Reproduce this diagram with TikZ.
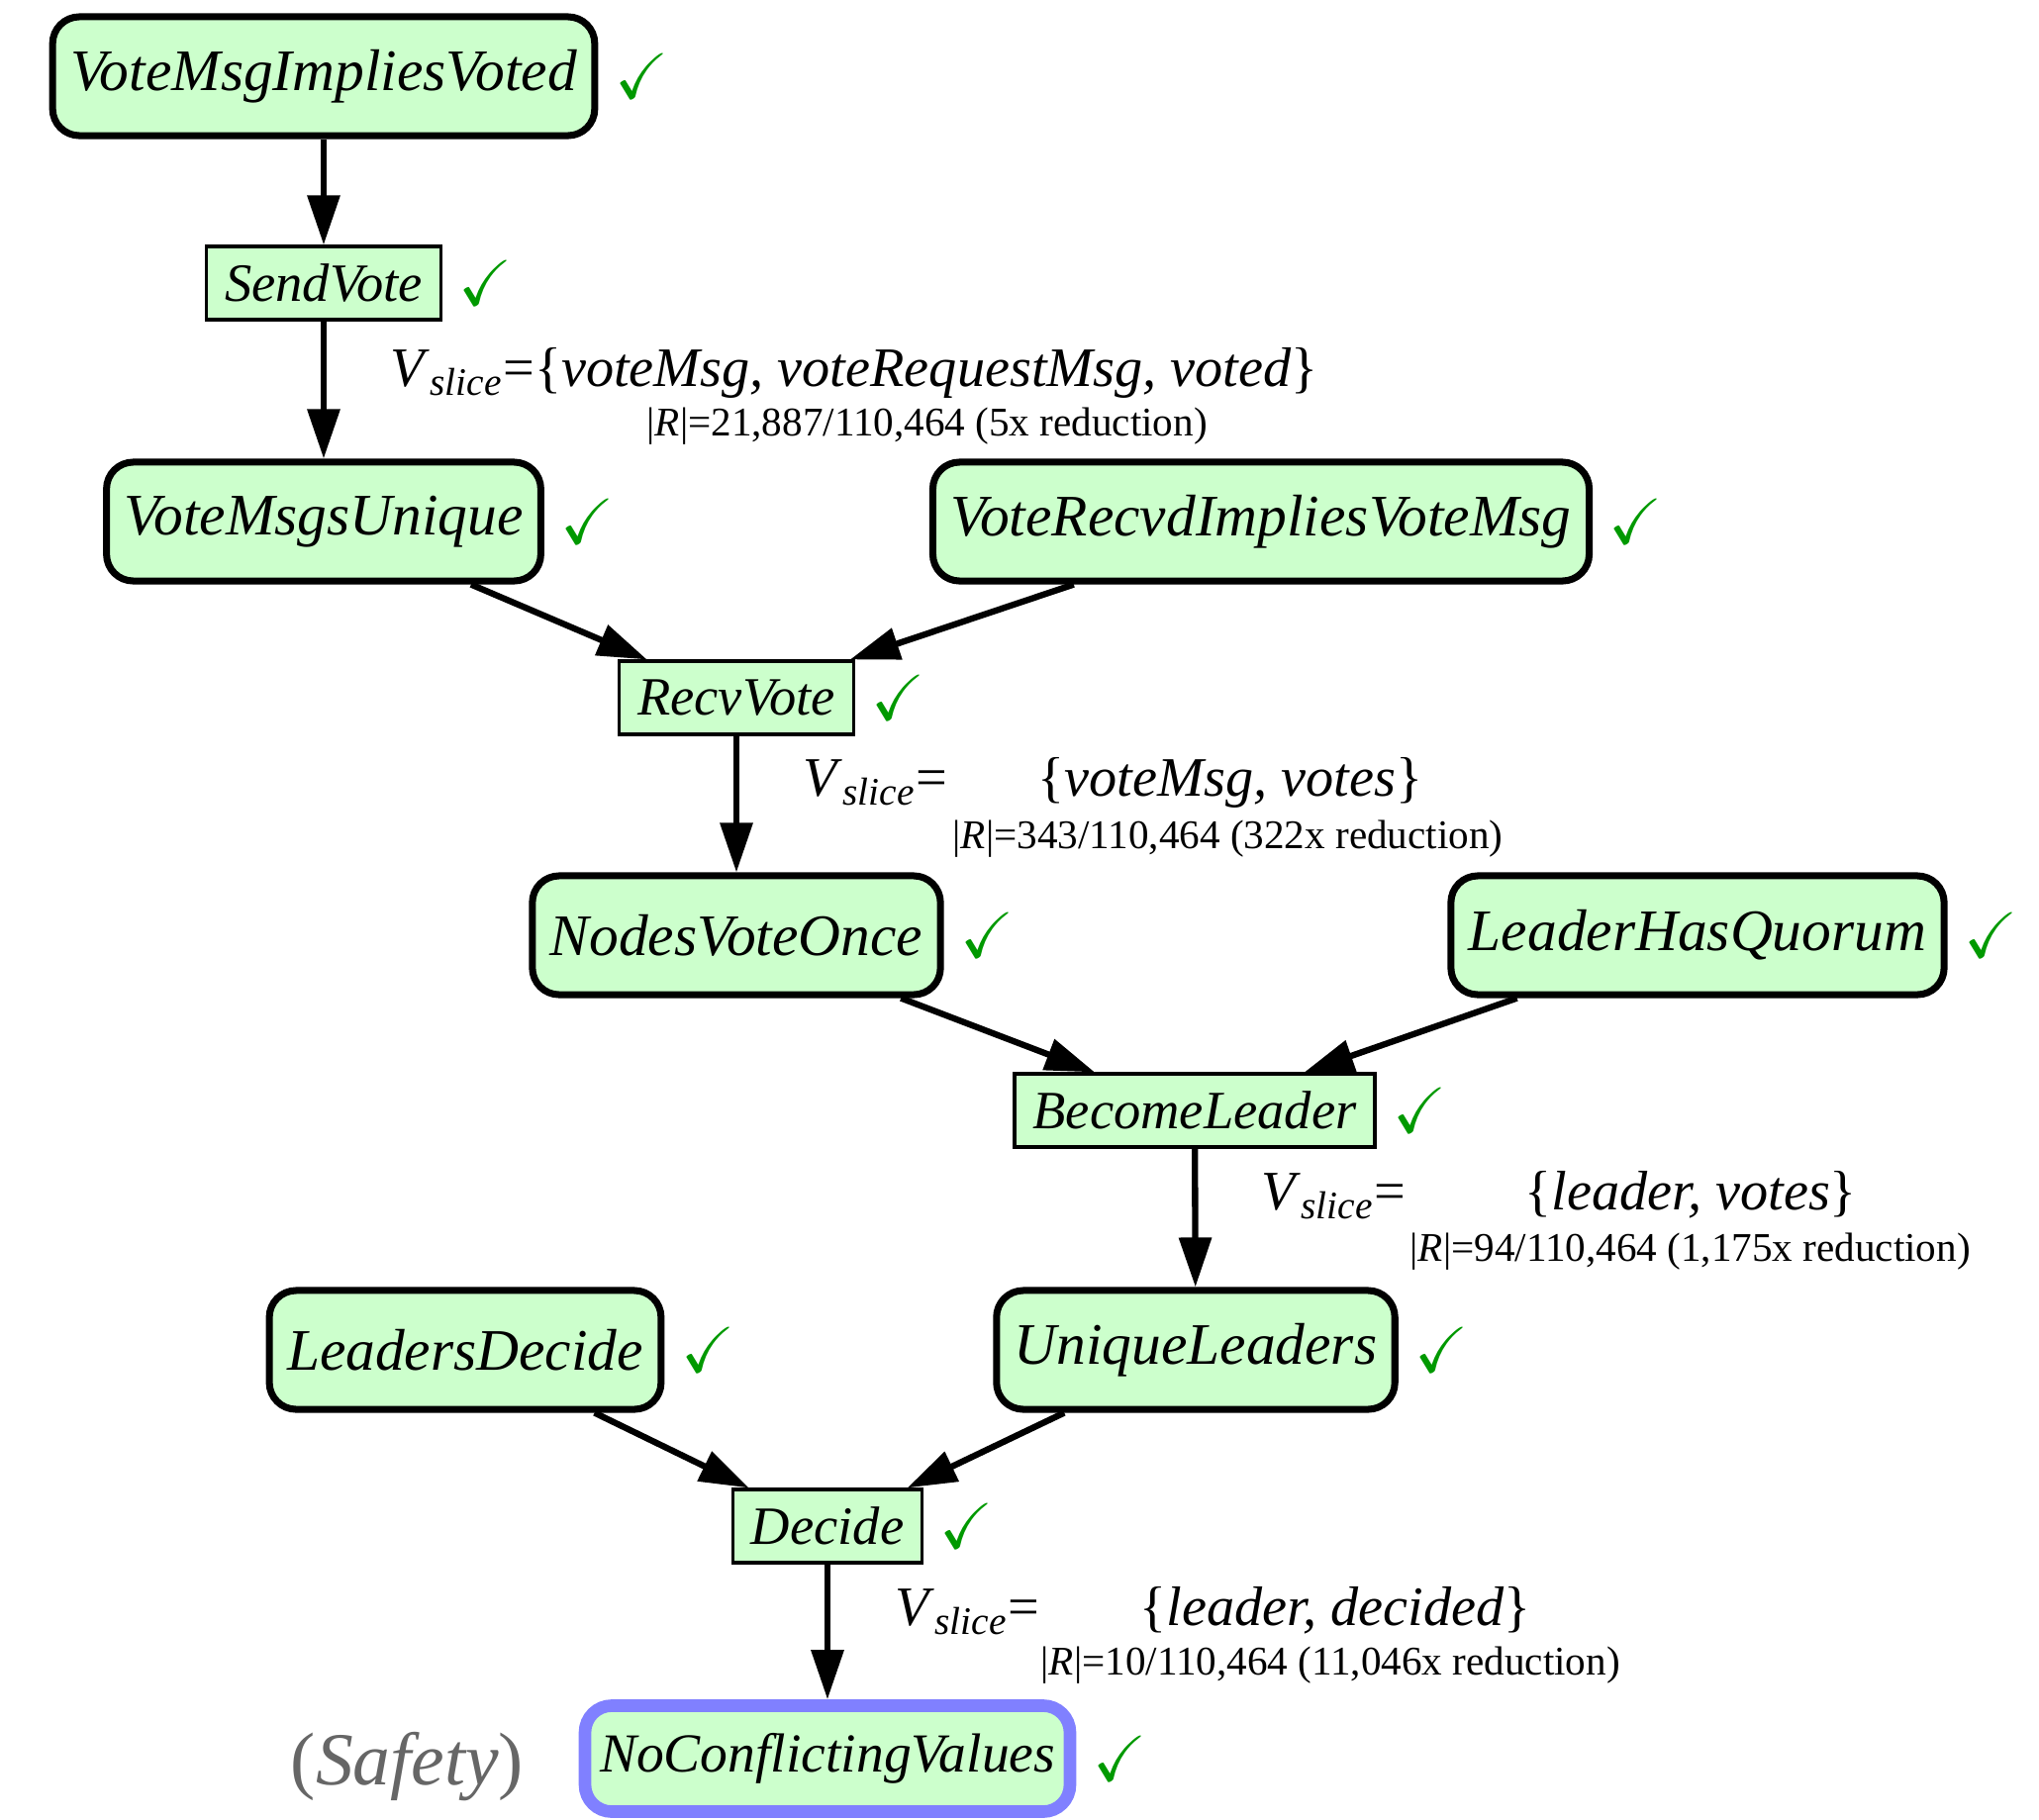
\documentclass[tikz,border=0pt]{standalone}
\usepackage{amssymb}
\usepackage{fontspec}
\setmainfont{Liberation Serif}
\usepackage{tikz}
\usetikzlibrary{arrows.meta,positioning}
\definecolor{invfill}{HTML}{CCFFCC}
\definecolor{safeblue}{HTML}{8080FF}
\definecolor{okgreen}{HTML}{009900}
\definecolor{safegray}{HTML}{666666}
\newcommand{\vslice}{\textit{V}\textsubscript{\textit{slice}}=}

\begin{document}
\begin{tikzpicture}[
    x=0.01cm, y=-0.01cm,
    node distance=0.16cm,
    invbox/.style={rectangle, draw=black, fill=invfill, line width=2pt, rounded corners=0.27cm, minimum height=1.2cm, inner xsep=0.18cm, font=\fontsize{16.9}{20}\selectfont\itshape},
    actbox/.style={rectangle, draw=black, fill=invfill, line width=0.9pt, minimum height=0.74cm, inner xsep=0.185cm, font=\fontsize{15.5}{18}\selectfont\itshape},
    okmark/.style={text=okgreen, inner sep=0pt, anchor=west, font=\fontsize{18.5}{20}\selectfont},
    arrow/.style={draw, line width=1.8pt, -{Triangle[length=0.5cm, width=0.32cm]}},
    slice/.style={anchor=base west, inner sep=0pt, font=\fontsize{16}{19}\selectfont},
    count/.style={anchor=base west, inner sep=0pt, font=\fontsize{11.7}{14}\selectfont}
]
\useasboundingbox (0,0) rectangle (2060,1839);

% invariants and actions
\node [invbox] (vmiv) at (327,77) {VoteMsgImpliesVoted};
\node [actbox] (sendvote) at (327,286) {SendVote};
\node [invbox] (vmu) at (327,527) {VoteMsgsUnique};
\node [invbox] (vrivm) at (1274,527) {VoteRecvdImpliesVoteMsg};
\node [actbox] (recvvote) at (744,705) {RecvVote};
\node [invbox] (nvo) at (744,945) {NodesVoteOnce};
\node [invbox] (lhq) at (1715,945) {LeaderHasQuorum};
\node [actbox] (becomeleader) at (1207,1122) {BecomeLeader};
\node [invbox] (ld) at (470,1364) {LeadersDecide};
\node [invbox] (ul) at (1208,1364) {UniqueLeaders};
\node [actbox] (decide) at (836,1542) {Decide};
\node [invbox, draw=safeblue, line width=3.6pt, minimum height=1.07cm, inner xsep=0.15cm, font=\fontsize{15.8}{18}\selectfont\itshape] (ncv) at (836,1777) {NoConflictingValues};
\node [text=safegray, inner sep=0pt, anchor=base east, font=\fontsize{21.5}{24}\selectfont] (safety) at ([xshift=-0.55cm, yshift=-0.13cm]ncv.base west) {(\textit{Safety})};

% checks
\node [okmark, right=of vmiv] (vmivok) {$\checkmark$};
\node [okmark, right=of sendvote] (sendvoteok) {$\checkmark$};
\node [okmark, right=of vmu] (vmuok) {$\checkmark$};
\node [okmark, right=of vrivm] (vrivmok) {$\checkmark$};
\node [okmark, right=of recvvote] (recvvoteok) {$\checkmark$};
\node [okmark, right=of nvo] (nvook) {$\checkmark$};
\node [okmark, right=of lhq] (lhqok) {$\checkmark$};
\node [okmark, right=of becomeleader] (becomeleaderok) {$\checkmark$};
\node [okmark, right=of ld] (ldok) {$\checkmark$};
\node [okmark, right=of ul] (ulok) {$\checkmark$};
\node [okmark, right=of decide] (decideok) {$\checkmark$};
\node [okmark, right=of ncv] (ncvok) {$\checkmark$};

% slice labels
\node [slice] (slice1) at (394,390) {\vslice\{\textit{voteMsg, voteRequestMsg, voted}\}};
\node [count] (count1) at (653,440) {|\textit{R}|=21,887/110,464 (5x reduction)};
\node [slice] (slice2) at (811,804) {\vslice};
\node [slice] (set2) at (1048,804) {\{\textit{voteMsg, votes}\}};
\node [count] (count2) at (962,857) {|\textit{R}|=343/110,464 (322x reduction)};
\node [slice] (slice3) at (1274,1222) {\vslice};
\node [slice] (set3) at (1540,1222) {\{\textit{leader, votes}\}};
\node [count] (count3) at (1424,1274) {|\textit{R}|=94/110,464 (1,175x reduction)};
\node [slice] (slice4) at (904,1642) {\vslice};
\node [slice] (set4) at (1151,1642) {\{\textit{leader, decided}\}};
\node [count] (count4) at (1051,1692) {|\textit{R}|=10/110,464 (11,046x reduction)};

\draw [arrow] (vmiv) -- (sendvote);
\draw [arrow] (sendvote) -- (vmu);
\draw [arrow] (vmu) -- (recvvote);
\draw [arrow] (vrivm) -- (recvvote);
\draw [arrow] (recvvote) -- (nvo);
\draw [arrow] (nvo) -- (becomeleader);
\draw [arrow] (lhq) -- (becomeleader);
\draw [arrow] (becomeleader) -- (ul);
\draw [arrow] (ld) -- (decide);
\draw [arrow] (ul) -- (decide);
\draw [arrow] (decide) -- (ncv);

\end{tikzpicture}
\end{document}
